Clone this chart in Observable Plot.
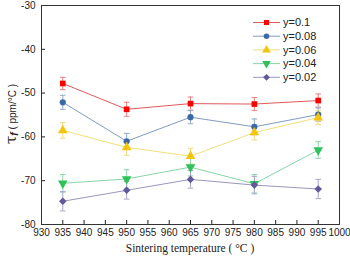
<!DOCTYPE html>
<html><head><meta charset="utf-8">
<script src="https://cdn.jsdelivr.net/npm/d3@7"></script>
<script src="https://cdn.jsdelivr.net/npm/@observablehq/plot@0.6"></script>
<style>
html,body{margin:0;padding:0;background:#fff;}
#chart{width:350px;height:258px;}
</style></head>
<body><div id="chart"></div>
<script>
const temps = [935, 950, 965, 980, 995];
const seriesLabels = ["y=0.1", "y=0.08", "y=0.06", "y=0.04", "y=0.02"];
const tau01 = [-47.8, -53.7, -52.4, -52.5, -51.7];
const err01 = [1.4, 1.6, 1.5, 1.5, 1.5];
const tau008 = [-52.1, -61.0, -55.5, -57.7, -54.9];
const err008 = [1.6, 1.8, 1.5, 1.8, 1.5];
const tau006 = [-58.5, -62.4, -64.4, -59.0, -55.6];
const err006 = [1.8, 1.8, 1.8, 1.7, 1.6];
const tau004 = [-70.6, -69.6, -66.9, -70.7, -63.0];
const err004 = [2.0, 2.1, 2.0, 2.1, 1.9];
const tau002 = [-74.7, -72.2, -69.7, -71.0, -71.9];
const err002 = [2.2, 2.0, 2.0, 2.0, 2.2];
const xTicks = [930, 935, 940, 945, 950, 955, 960, 965, 970, 975, 980, 985, 990, 995, 1000];
const yTicks = [-80, -70, -60, -50, -40, -30];

const triangleDown = {
  draw(context, size) {
    const sqrt3 = Math.sqrt(3);
    const y = Math.sqrt(size / (sqrt3 * 3));
    context.moveTo(0, y * 2);
    context.lineTo(-sqrt3 * y, -y);
    context.lineTo(sqrt3 * y, -y);
    context.closePath();
  }
};
const capSymbol = {
  draw(context, size) {
    const w = Math.sqrt(size / Math.PI);
    context.moveTo(-w, 0);
    context.lineTo(w, 0);
  }
};

const values = [tau01, tau008, tau006, tau004, tau002];
const errors = [err01, err008, err006, err004, err002];
const markerColors = ["#ff0000", "#3a6aa6", "#f5c40f", "#2fc25a", "#62589c"];
const lineColors = ["#e05a5a", "#7f9cc0", "#f3df78", "#86d6a6", "#9a95c0"];
const errColors = ["#e88080", "#93abc8", "#f1d978", "#8ed6aa", "#a8a4c6"];
const symbols = ["square", "circle", "triangle", triangleDown, "diamond2"];
const symbolR = [3.2, 3.1, 3.6, 3.6, 3.4];

const series = seriesLabels.map((name, i) => ({
  name, i,
  rows: temps.map((t, j) => ({t, v: values[i][j], lo: values[i][j] - errors[i][j], hi: values[i][j] + errors[i][j]}))
}));

const marks = [];
for (const s of series) {
  marks.push(Plot.line(s.rows, {x: "t", y: "v", stroke: lineColors[s.i], strokeWidth: 1}));
}
for (const s of series) {
  marks.push(Plot.ruleX(s.rows, {x: "t", y1: "lo", y2: "hi", stroke: errColors[s.i], strokeWidth: 1}));
  marks.push(Plot.dot(s.rows, {x: "t", y: "lo", symbol: capSymbol, r: 2.8, stroke: errColors[s.i], strokeWidth: 1}));
  marks.push(Plot.dot(s.rows, {x: "t", y: "hi", symbol: capSymbol, r: 2.8, stroke: errColors[s.i], strokeWidth: 1}));
}
for (const s of series) {
  marks.push(Plot.dot(s.rows, {x: "t", y: "v", symbol: symbols[s.i], r: symbolR[s.i], fill: markerColors[s.i], stroke: "none"}));
}

const plot = Plot.plot({
  width: 350,
  height: 258,
  marginLeft: 41,
  marginRight: 11,
  marginTop: 5,
  marginBottom: 34,
  style: {fontFamily: "'Liberation Sans', Arial, sans-serif", fontSize: "10px", background: "#fff", color: "#222"},
  x: {domain: [930, 1000]},
  y: {domain: [-80, -30]},
  marks: [
    Plot.axisX({ticks: xTicks, tickFormat: d => String(d), tickSize: -4, tickPadding: 8, label: null, fontSize: 10}),
    Plot.axisY({ticks: yTicks, tickFormat: d => String(d), tickSize: -4, tickPadding: 10, label: null, fontSize: 10}),
    ...marks,
    Plot.frame({stroke: "#333", strokeWidth: 1})
  ]
});

const svg = d3.select(plot);
// x-axis title
svg.append("text")
  .attr("x", 190).attr("y", 252)
  .attr("text-anchor", "middle")
  .attr("font-family", "'Liberation Serif', 'Times New Roman', serif")
  .attr("font-size", 11.5)
  .attr("fill", "#222")
  .text("Sintering temperature ( °C )");
// y-axis title
const yl = svg.append("text")
  .attr("transform", "translate(16,114) rotate(-90)")
  .attr("text-anchor", "middle")
  .attr("font-family", "'Liberation Sans', Arial, sans-serif")
  .attr("font-size", 10)
  .attr("fill", "#222");
yl.append("tspan").attr("font-size", 15).attr("font-family", "'DejaVu Serif', serif").text("τ");
yl.append("tspan").attr("font-size", 10).attr("font-style", "italic").attr("font-weight", "bold").attr("dy", 2).text("f");
yl.append("tspan").attr("dy", -2).text(" ( ppm/°C )");

// legend
const lg = svg.append("g").attr("font-family", "'Liberation Sans', Arial, sans-serif").attr("font-size", 11).attr("text-anchor", "start");
series.forEach((s, k) => {
  const y = 22.5 + k * 13.7;
  lg.append("line").attr("x1", 253).attr("x2", 280).attr("y1", y).attr("y2", y)
    .attr("stroke", lineColors[s.i]).attr("stroke-width", 1);
  const sym = typeof symbols[s.i] === "string"
    ? {square: d3.symbolSquare, circle: d3.symbolCircle, triangle: d3.symbolTriangle, diamond2: d3.symbolDiamond2}[symbols[s.i]]
    : symbols[s.i];
  lg.append("path").attr("transform", `translate(266.5,${y})`)
    .attr("d", d3.symbol(sym, Math.PI * symbolR[s.i] * symbolR[s.i] * 0.8)())
    .attr("fill", markerColors[s.i]);
  lg.append("text").attr("x", 283).attr("y", y).attr("dy", "0.35em").attr("text-anchor", "start").attr("fill", "#222").text(s.name);
});

document.getElementById("chart").append(plot);
</script>
</body></html>
